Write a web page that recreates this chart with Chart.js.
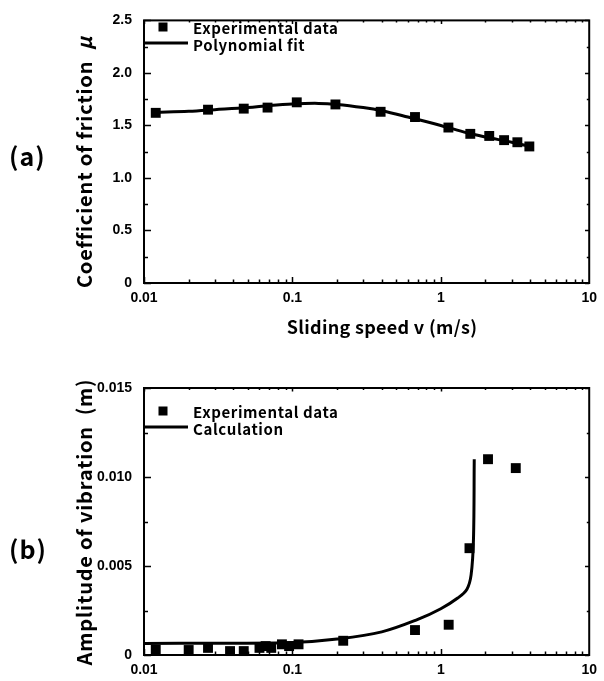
<!DOCTYPE html>
<html>
<head>
<meta charset="utf-8">
<script src="https://cdn.jsdelivr.net/npm/chart.js@4/dist/chart.umd.min.js"></script>
<style>
  html, body { margin: 0; padding: 0; background: #fff; }
  #page { position: relative; width: 604px; height: 681px; overflow: hidden; background: #fff; }
  canvas { position: absolute; left: 0; }
  .txt { position: absolute; color: #000; font-family: "Noto Sans CJK JP", "Noto Sans", sans-serif; font-weight: bold; white-space: nowrap; line-height: 1; }
  .ytitle { transform: translate(-50%, -50%) rotate(-90deg); font-size: 20px; letter-spacing: 0.8px; }
  .xtitle { transform: translate(-50%, -50%); font-size: 18px; letter-spacing: 0.3px; }
  .panel { font-size: 25px; letter-spacing: 1px; transform: translateY(-50%); }
  .leg { font-size: 15px; letter-spacing: 0.6px; transform: translateY(-50%); }
  .sq { position: absolute; width: 9px; height: 9px; background: #000; transform: translate(-50%, -50%); }
  .ln { position: absolute; height: 3px; background: #000; transform: translateY(-50%); }
</style>
</head>
<body>
<div id="page">
  <canvas id="chartA" width="604" height="340" style="top:0"></canvas>
  <canvas id="chartB" width="604" height="341" style="top:340px"></canvas>

  <div class="txt panel" style="left:9px; top:155px;">(a)</div>
  <div class="txt panel" style="left:9px; top:548px;">(b)</div>

  <div class="txt ytitle" style="left:84px; top:162px;">Coefficient of friction&nbsp;&nbsp;<i>μ</i></div>
  <div class="txt xtitle" style="left:382px; top:326px;">Sliding speed v (m/s)</div>
  <div class="txt ytitle" style="left:84px; top:522px;">Amplitude of vibration&nbsp;&nbsp;(m)</div>

  <div class="sq" style="left:163px; top:27px;"></div>
  <div class="txt leg" style="left:193px; top:27px;">Experimental data</div>
  <div class="ln" style="left:143px; width:45px; top:43px;"></div>
  <div class="txt leg" style="left:193px; top:44px;">Polynomial fit</div>

  <div class="sq" style="left:163px; top:411px;"></div>
  <div class="txt leg" style="left:193px; top:411px;">Experimental data</div>
  <div class="ln" style="left:143px; width:45px; top:427px;"></div>
  <div class="txt leg" style="left:193px; top:428px;">Calculation</div>
</div>

<script>
// (a) friction coefficient against sliding speed
const speedA = [0.012, 0.027, 0.047, 0.068, 0.107, 0.195, 0.393, 0.67, 1.125, 1.58, 2.12, 2.67, 3.28, 3.95];
const frictionA = [1.62, 1.65, 1.66, 1.67, 1.72, 1.70, 1.63, 1.58, 1.48, 1.42, 1.40, 1.36, 1.34, 1.30];
const fitSpeedA = [0.012, 0.02, 0.03, 0.05, 0.07, 0.1, 0.15, 0.2, 0.3, 0.4, 0.6, 1.0, 1.5, 2.0, 3.0, 4.0];
const fitFrictionA = [1.625, 1.635, 1.65, 1.67, 1.69, 1.705, 1.71, 1.70, 1.67, 1.64, 1.58, 1.50, 1.43, 1.39, 1.34, 1.30];

// (b) vibration amplitude against sliding speed
const speedB = [0.012, 0.02, 0.027, 0.038, 0.047, 0.06, 0.066, 0.072, 0.085, 0.095, 0.11, 0.22, 0.67, 1.13, 1.56, 2.08, 3.2];
const amplitudeB = [0.0003, 0.00028, 0.0004, 0.00022, 0.00022, 0.0004, 0.0005, 0.0004, 0.0006, 0.0005, 0.0006, 0.0008, 0.0014, 0.0017, 0.006, 0.0110, 0.0105];
const calcSpeedB = [0.01, 0.03, 0.1, 0.2, 0.4, 0.7, 1.0, 1.3, 1.5, 1.6, 1.66, 1.68];
const calcAmplitudeB = [0.00065, 0.00066, 0.0007, 0.0009, 0.0013, 0.002, 0.0026, 0.0032, 0.0037, 0.0045, 0.0065, 0.011];

// axis ticks
const xTickValues = [0.01, 0.1, 1, 10];
const xTickLabels = ['0.01', '0.1', '1', '10'];
const yTicksA = [0, 0.5, 1.0, 1.5, 2.0, 2.5];
const yLabelsA = ['0', '0.5', '1.0', '1.5', '2.0', '2.5'];
const yTicksB = [0, 0.005, 0.010, 0.015];
const yLabelsB = ['0', '0.005', '0.010', '0.015'];

const pts = (xs, ys) => xs.map((v, i) => ({ x: v, y: ys[i] }));
const tickFont = { family: '"Liberation Sans", Arial, sans-serif', size: 14, weight: 'bold' };

// box frame with inward major / minor ticks
const frameTicks = {
  id: 'frameTicks',
  afterDraw(chart, args, opts) {
    const { ctx, chartArea: { left, right, top, bottom }, scales: { x, y } } = chart;
    ctx.save();
    ctx.strokeStyle = '#000';
    ctx.lineWidth = 2;
    ctx.strokeRect(left, top, right - left, bottom - top);
    ctx.lineWidth = 1.5;
    ctx.beginPath();
    [0.01, 0.1, 1].forEach(d => {
      for (let k = 1; k <= 9; k++) {
        const px = Math.round(x.getPixelForValue(k * d)) + 0.5;
        const len = k === 1 ? 6 : 3.5;
        ctx.moveTo(px, bottom); ctx.lineTo(px, bottom - len);
        ctx.moveTo(px, top); ctx.lineTo(px, top + len * 0.6);
      }
    });
    for (let v = 0; v <= opts.max + 1e-9; v += opts.minor) {
      const py = Math.round(y.getPixelForValue(v)) + 0.5;
      const major = Math.abs(v / opts.major - Math.round(v / opts.major)) < 1e-6;
      const len = major ? 7 : 4;
      ctx.moveTo(left, py); ctx.lineTo(left + len, py);
      ctx.moveTo(right, py); ctx.lineTo(right - len * 0.6, py);
    }
    ctx.stroke();
    ctx.restore();
  }
};

function makeChart(id, points, curve, yTicks, yLabels, yMax, padTop, xHeight, frame) {
  return new Chart(document.getElementById(id), {
    type: 'scatter',
    data: {
      datasets: [
        { data: curve, showLine: true, borderColor: '#000', borderWidth: 3, pointRadius: 0, tension: 0.35, order: 2 },
        { data: points, pointStyle: 'rect', pointRadius: 7, backgroundColor: '#000', borderColor: '#000', borderWidth: 0, clip: false, order: 1 }
      ]
    },
    options: {
      responsive: false,
      animation: false,
      devicePixelRatio: 1,
      layout: { padding: { top: padTop, right: 11, left: 0, bottom: 0 } },
      plugins: { legend: { display: false }, tooltip: { enabled: false }, frameTicks: frame },
      scales: {
        x: {
          type: 'logarithmic', min: 0.01, max: 10,
          grid: { display: false, drawTicks: false },
          border: { display: false },
          afterBuildTicks: s => { s.ticks = xTickValues.map(v => ({ value: v })); },
          afterFit: s => { s.height = xHeight; },
          ticks: { color: '#000', font: tickFont, padding: 7, maxRotation: 0, autoSkip: false,
                   callback: v => xTickLabels[xTickValues.indexOf(v)] }
        },
        y: {
          min: 0, max: yMax,
          grid: { display: false, drawTicks: false },
          border: { display: false },
          afterBuildTicks: s => { s.ticks = yTicks.map(v => ({ value: v })); },
          afterFit: s => { s.width = 144; },
          ticks: { color: '#000', font: tickFont, padding: 12, autoSkip: false,
                   callback: v => yLabels[yTicks.findIndex(t => Math.abs(t - v) < 1e-9)] }
        }
      }
    },
    plugins: [frameTicks]
  });
}

makeChart('chartA', pts(speedA, frictionA), pts(fitSpeedA, fitFrictionA),
          yTicksA, yLabelsA, 2.5, 14, 57, { major: 0.5, minor: 0.25, max: 2.5 });
makeChart('chartB', pts(speedB, amplitudeB), pts(calcSpeedB, calcAmplitudeB),
          yTicksB, yLabelsB, 0.015, 48, 26, { major: 0.005, minor: 0.0025, max: 0.015 });
</script>
</body>
</html>
